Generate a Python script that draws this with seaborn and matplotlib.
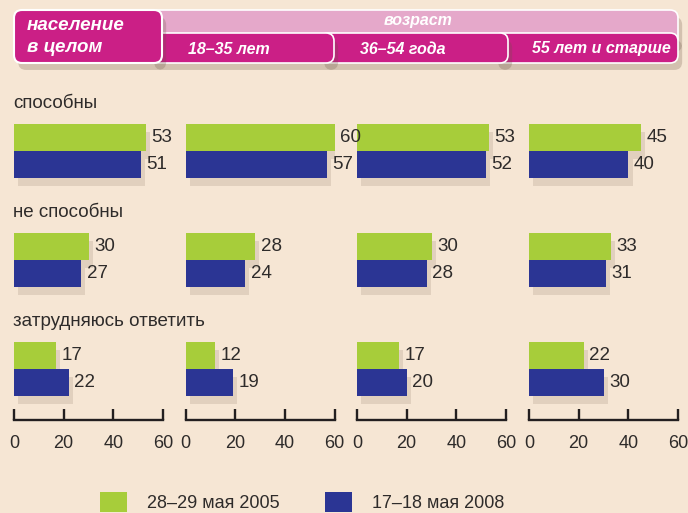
import numpy as np
import pandas as pd
import matplotlib
matplotlib.use('Agg')
import matplotlib.pyplot as plt
import seaborn as sns
import matplotlib.transforms as mtransforms
import matplotlib.patheffects as pe
from matplotlib.patches import FancyBboxPatch, Patch

# ---------------- data ----------------
groups = ['население в целом', '18–35 лет', '36–54 года', '55 лет и старше']
header_title = 'возраст'
categories = ['способны', 'не способны', 'затрудняюсь ответить']
periods = ['28–29 мая 2005', '17–18 мая 2008']
values_2005 = [[53, 30, 17], [60, 28, 12], [53, 30, 17], [45, 33, 22]]
values_2008 = [[51, 27, 22], [57, 24, 19], [52, 28, 20], [40, 31, 30]]
x_ticks = [0, 20, 40, 60]

rows = []
for gi, g in enumerate(groups):
    for ci, c in enumerate(categories):
        rows.append((g, c, periods[0], values_2005[gi][ci]))
        rows.append((g, c, periods[1], values_2008[gi][ci]))
df = pd.DataFrame(rows, columns=['group', 'category', 'period', 'value'])

# ---------------- style ----------------
sns.set_theme(style='white')
plt.rcParams['font.family'] = ['Liberation Sans', 'DejaVu Sans']

BG = '#f6e6d4'
GREEN = '#a7cd3a'
BLUE = '#2b3594'
MAGENTA = '#cb1f86'
PINK = '#e5a8ca'
TXT = '#2e2b2a'
AX = '#231f20'

W, H = 688, 513
fig = plt.figure(figsize=(W / 100, H / 100), dpi=100, facecolor=BG)

lefts = [14, 185.5, 357, 529]
pw = 149
bottom_px = 93
height_px = 323.5

shadow = [pe.withSimplePatchShadow(offset=(3, -6), shadow_rgbFace='#6b5544', alpha=0.15)]

axes = []
for gi, g in enumerate(groups):
    ax = fig.add_axes([lefts[gi] / W, bottom_px / H, pw / W, height_px / H],
                      zorder=4 - gi)
    ax.patch.set_alpha(0)
    sub = df[df['group'] == g]
    sns.barplot(data=sub, y='category', x='value', hue='period', orient='h',
                order=categories, hue_order=periods, palette=[GREEN, BLUE],
                width=0.495, saturation=1, linewidth=0, legend=False, ax=ax,
                errorbar=None)
    ax.set_xlim(0, 60)
    ax.set_ylim(2.468, -0.5)
    ax.set_xticks(x_ticks)
    ax.set_yticks([])
    ax.set_xlabel('')
    ax.set_ylabel('')
    sns.despine(ax=ax, left=True)
    ax.spines['bottom'].set_linewidth(1.7)
    ax.spines['bottom'].set_color(AX)
    ax.tick_params(axis='x', direction='in', length=8, width=1.7, color=AX,
                   pad=11, labelsize=13, labelcolor=TXT, bottom=True)
    for p in ax.patches:
        p.set_path_effects(shadow)
    for cont in ax.containers:
        ax.bar_label(cont, padding=4, fontsize=13.5, color=TXT)
    axes.append(ax)

# category labels above each group
ax0 = axes[0]
trans = mtransforms.blended_transform_factory(ax0.transAxes, ax0.transData)
for ci, c in enumerate(categories):
    ax0.text(-0.007, ci - 0.44, c, transform=trans, ha='left', va='center',
             fontsize=13.5, color=TXT, clip_on=False)

# ---------------- header ----------------
hdr = fig.add_axes([0, 0, 1, 1], zorder=5)
hdr.set_xlim(0, W)
hdr.set_ylim(H, 0)
hdr.axis('off')

hshadow = [pe.withSimplePatchShadow(offset=(3, -5), shadow_rgbFace='#6b5544', alpha=0.25)]

strip = FancyBboxPatch((150, 10), 528, 35, boxstyle='round,pad=0,rounding_size=8',
                       fc=PINK, ec='white', lw=1.2, path_effects=hshadow)
hdr.add_patch(strip)
row_boxes = [(150, 334), (320, 508), (494, 678)]
for x0, x1 in reversed(row_boxes):
    hdr.add_patch(FancyBboxPatch((x0, 33), x1 - x0, 30,
                                 boxstyle='round,pad=0,rounding_size=8',
                                 fc=MAGENTA, ec='white', lw=1.2, path_effects=hshadow))
hdr.add_patch(FancyBboxPatch((14, 10), 148, 53, boxstyle='round,pad=0,rounding_size=8',
                             fc=MAGENTA, ec='white', lw=1.5, path_effects=hshadow))

hfont = dict(color='white', fontweight='bold', style='italic')
first_lines = groups[0].split(' ', 1)
hdr.text(27, 26, first_lines[0], ha='left', va='center', fontsize=13.5, **hfont)
hdr.text(27, 47, first_lines[1], ha='left', va='center', fontsize=13.5, **hfont)
hdr.text(418, 21, header_title, ha='center', va='center', fontsize=11.5, **hfont)
for x, g in zip([188, 360, 532], groups[1:]):
    hdr.text(x, 49, g, ha='left', va='center', fontsize=11.5, **hfont)

# ---------------- legend ----------------
handles = [Patch(fc=GREEN, ec='none'), Patch(fc=BLUE, ec='none')]
fig.legend(handles, periods, loc='lower left', bbox_to_anchor=(100 / W, 1 / H),
           ncol=2, frameon=False, fontsize=13, handlelength=1.5, handleheight=1.35,
           handletextpad=1.1, columnspacing=2.5, borderpad=0, borderaxespad=0,
           labelcolor=TXT)

fig.savefig('out.png', dpi=100, facecolor=BG)
